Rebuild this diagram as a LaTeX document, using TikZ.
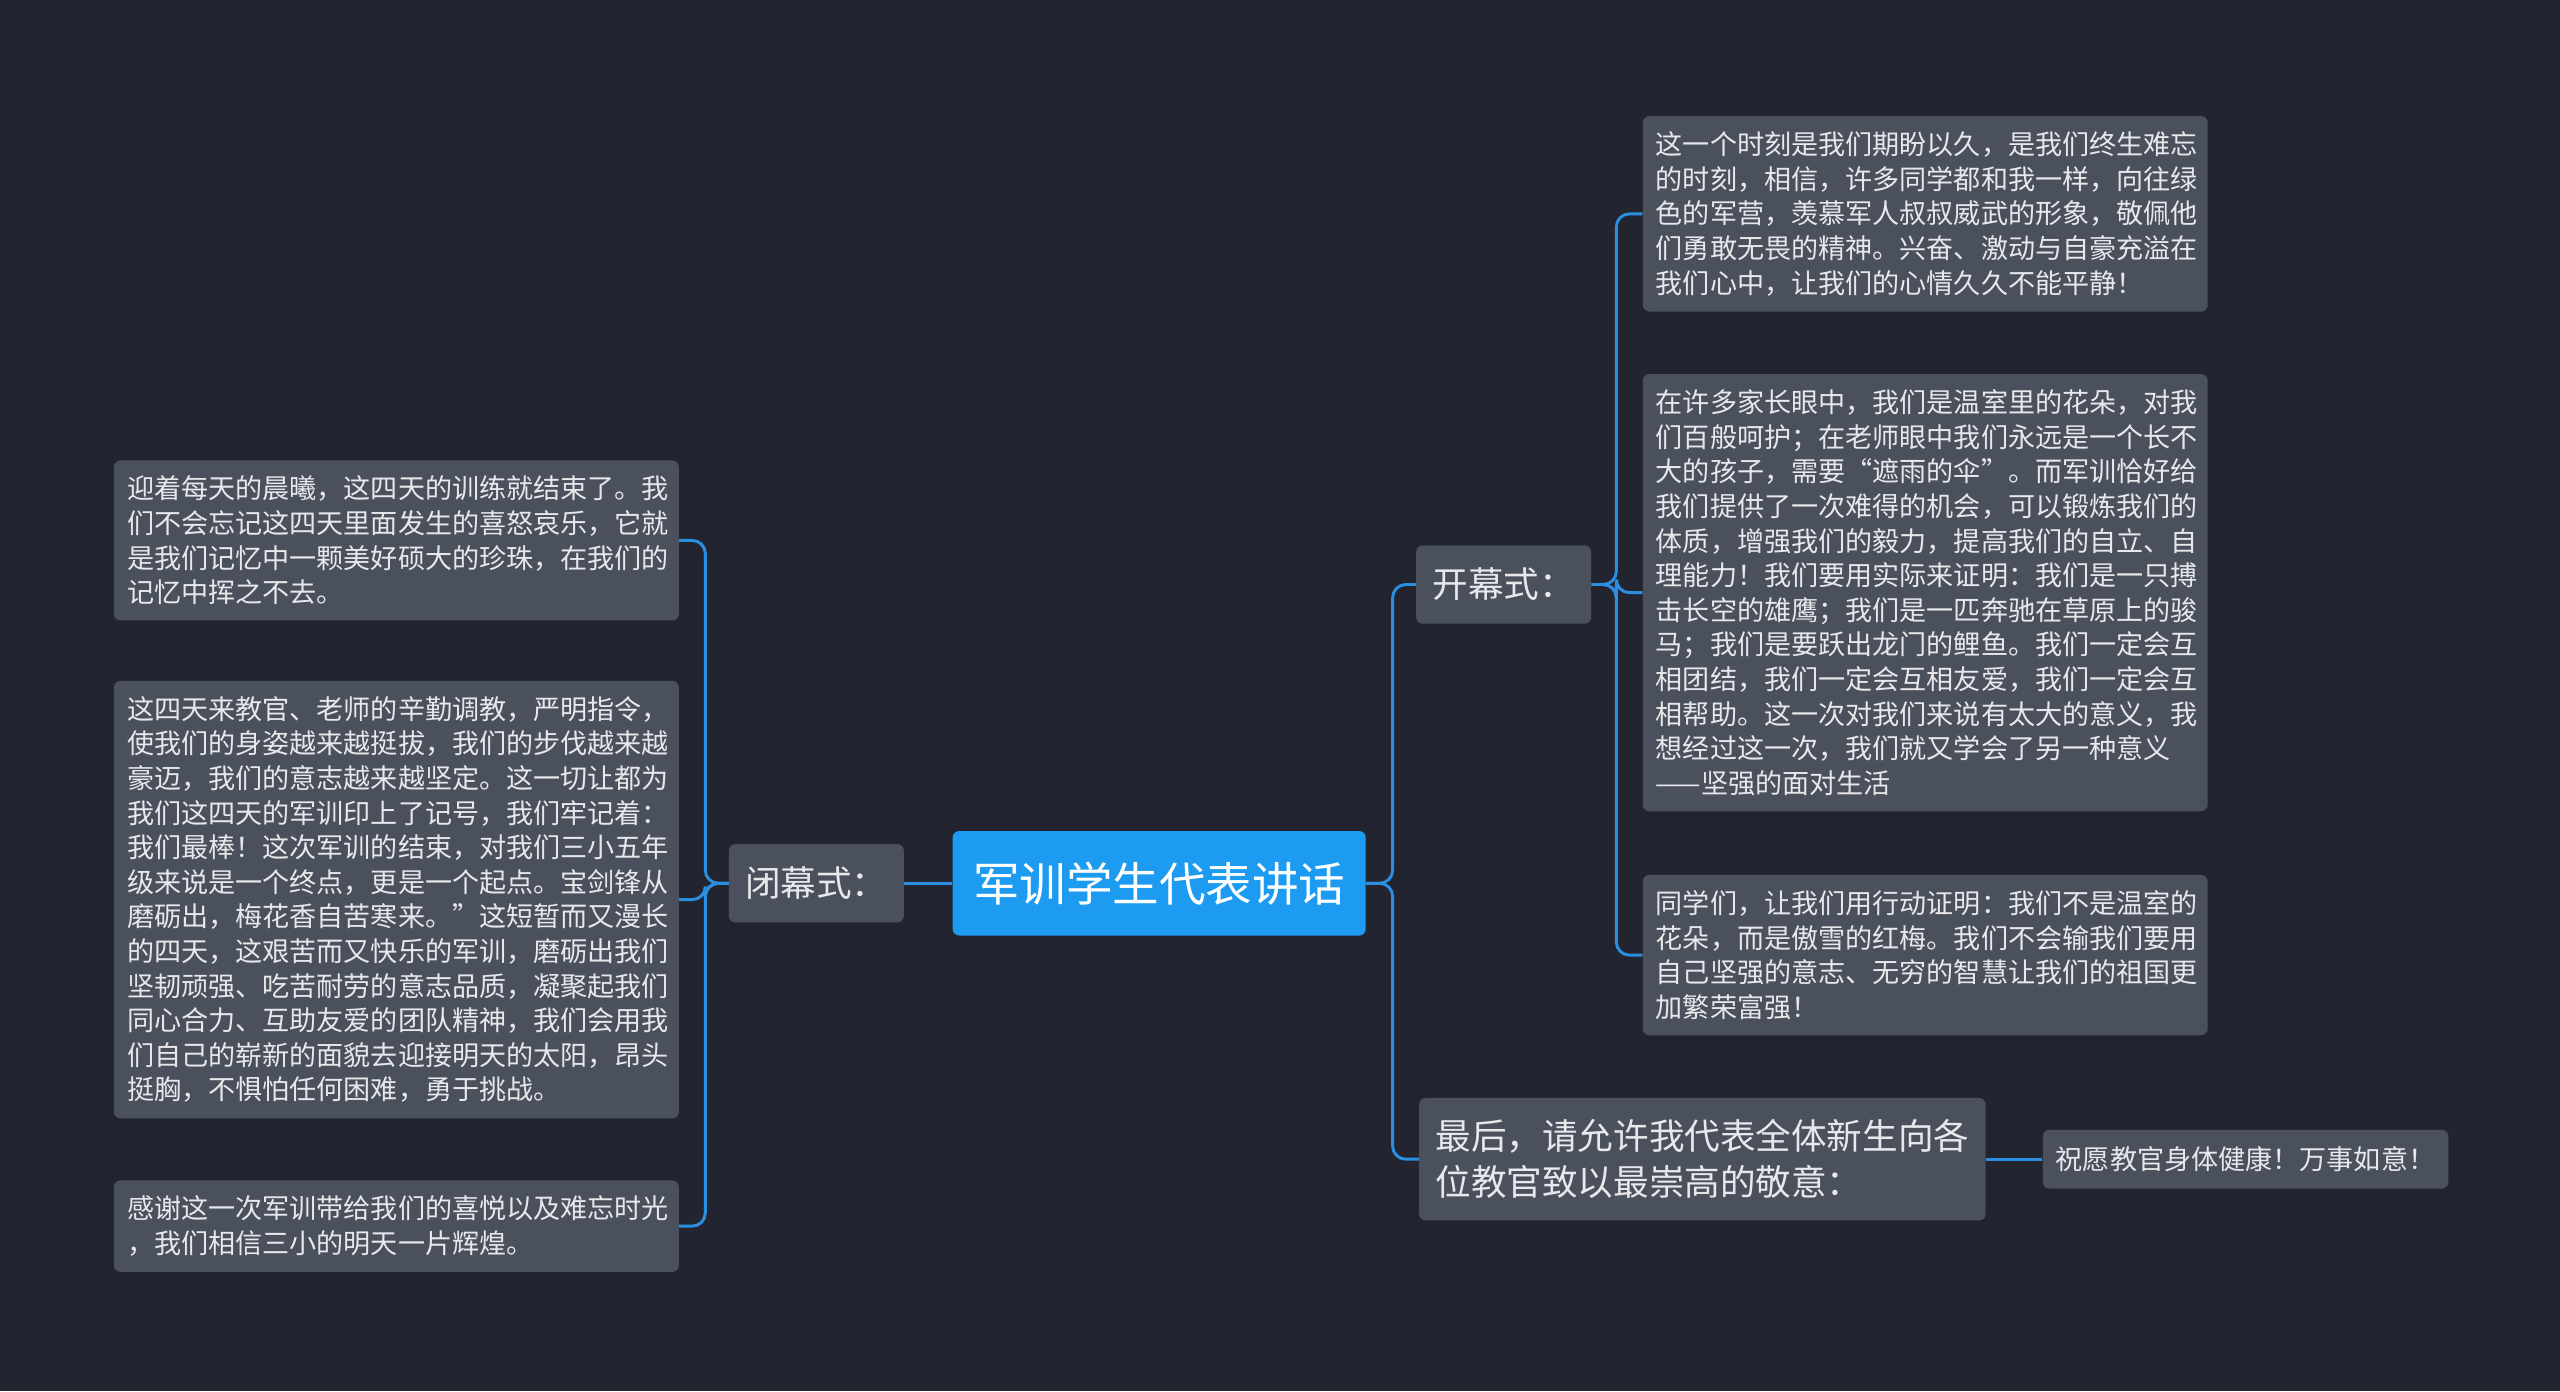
\documentclass[tikz,border=0pt]{standalone}
\usepackage{fontspec}
\setmainfont{Noto Sans CJK SC}
\usepackage{tikz}

\definecolor{bgc}{HTML}{22252F}
\definecolor{boxc}{HTML}{4B505D}
\definecolor{rootc}{HTML}{1C9BF0}
\definecolor{linec}{HTML}{2A8FE0}
\definecolor{txtc}{HTML}{E8E8EC}

\begin{document}
\begin{tikzpicture}[x=1pt,y=-1pt,
  leaf/.style={fill=boxc, rounded corners=4pt, text=txtc, align=left, inner xsep=8pt, inner ysep=9.5pt,
    font=\fontsize{16.6}{21.2}\selectfont, text width=330pt},
  mid/.style={fill=boxc, rounded corners=4pt, text=txtc, align=left, inner xsep=10pt, inner ysep=9pt,
    font=\fontsize{21.8}{28}\selectfont},
  link/.style={linec, line width=1.8pt, rounded corners=8pt}]
%background
\fill[bgc] (0,0) rectangle (1568,852);
\useasboundingbox (0,0) rectangle (1568,852);

% Root
\node[fill=rootc, rounded corners=4pt, text=white, minimum width=253pt, minimum height=64pt,
  font=\fontsize{28.5}{32}\selectfont] (root) at (710,541) {军训学生代表讲话};

% Second level
\node[mid, minimum width=104pt, minimum height=48pt] (bimu) at (500,541) {闭幕式：};
\node[mid, minimum width=104pt, minimum height=48pt] (kaimu) at (921,358) {开幕式：};
\node[mid, anchor=west, minimum height=75pt] (zuihou) at (869,710) {最后，请允许我代表全体新生向各\\位教官致以最崇高的敬意：};
\node[fill=boxc, rounded corners=4pt, text=txtc, anchor=west, inner xsep=8pt, minimum height=36pt,
  font=\fontsize{16.6}{21}\selectfont] (zhuyuan) at (1251,710) {祝愿教官身体健康！万事如意！};

% Right leaves
\node[leaf, anchor=west] (r1) at (1006,131) {这一个时刻是我们期盼以久，是我们终生难忘\\的时刻，相信，许多同学都和我一样，向往绿\\色的军营，羡慕军人叔叔威武的形象，敬佩他\\们勇敢无畏的精神。兴奋、激动与自豪充溢在\\我们心中，让我们的心情久久不能平静！};
\node[leaf, anchor=west] (r2) at (1006,363) {在许多家长眼中，我们是温室里的花朵，对我\\们百般呵护；在老师眼中我们永远是一个长不\\大的孩子，需要“遮雨的伞”。而军训恰好给\\我们提供了一次难得的机会，可以锻炼我们的\\体质，增强我们的毅力，提高我们的自立、自\\理能力！我们要用实际来证明：我们是一只搏\\击长空的雄鹰；我们是一匹奔驰在草原上的骏\\马；我们是要跃出龙门的鲤鱼。我们一定会互\\相团结，我们一定会互相友爱，我们一定会互\\相帮助。这一次对我们来说有太大的意义，我\\想经过这一次，我们就又学会了另一种意义\\——坚强的面对生活};
\node[leaf, anchor=west] (r3) at (1006,585) {同学们，让我们用行动证明：我们不是温室的\\花朵，而是傲雪的红梅。我们不会输我们要用\\自己坚强的意志、无穷的智慧让我们的祖国更\\加繁荣富强！};

% Left leaves
\node[leaf, anchor=east] (l1) at (416,331) {迎着每天的晨曦，这四天的训练就结束了。我\\们不会忘记这四天里面发生的喜怒哀乐，它就\\是我们记忆中一颗美好硕大的珍珠，在我们的\\记忆中挥之不去。};
\node[leaf, anchor=east] (l2) at (416,551) {这四天来教官、老师的辛勤调教，严明指令，\\使我们的身姿越来越挺拔，我们的步伐越来越\\豪迈，我们的意志越来越坚定。这一切让都为\\我们这四天的军训印上了记号，我们牢记着：\\我们最棒！这次军训的结束，对我们三小五年\\级来说是一个终点，更是一个起点。宝剑锋从\\磨砺出，梅花香自苦寒来。”这短暂而又漫长\\的四天，这艰苦而又快乐的军训，磨砺出我们\\坚韧顽强、吃苦耐劳的意志品质，凝聚起我们\\同心合力、互助友爱的团队精神，我们会用我\\们自己的崭新的面貌去迎接明天的太阳，昂头\\挺胸，不惧怕任何困难，勇于挑战。};
\node[leaf, anchor=east] (l3) at (416,751) {感谢这一次军训带给我们的喜悦以及难忘时光\\，我们相信三小的明天一片辉煌。};

% Connectors
\draw[link] (root.east) -- (853,541) |- (kaimu.west);
\draw[link] (root.east) -- (853,541) |- (zuihou.west);
\draw[link] (root.west) -- (bimu.east);
\draw[link] (zuihou.east) -- (zhuyuan.west);
\foreach \n in {r1,r2,r3}
  \draw[link] (kaimu.east) -- (990,358) |- (\n.west);
\foreach \n in {l1,l2,l3}
  \draw[link] (bimu.west) -- (432,541) |- (\n.east);

\end{tikzpicture}
\end{document}
